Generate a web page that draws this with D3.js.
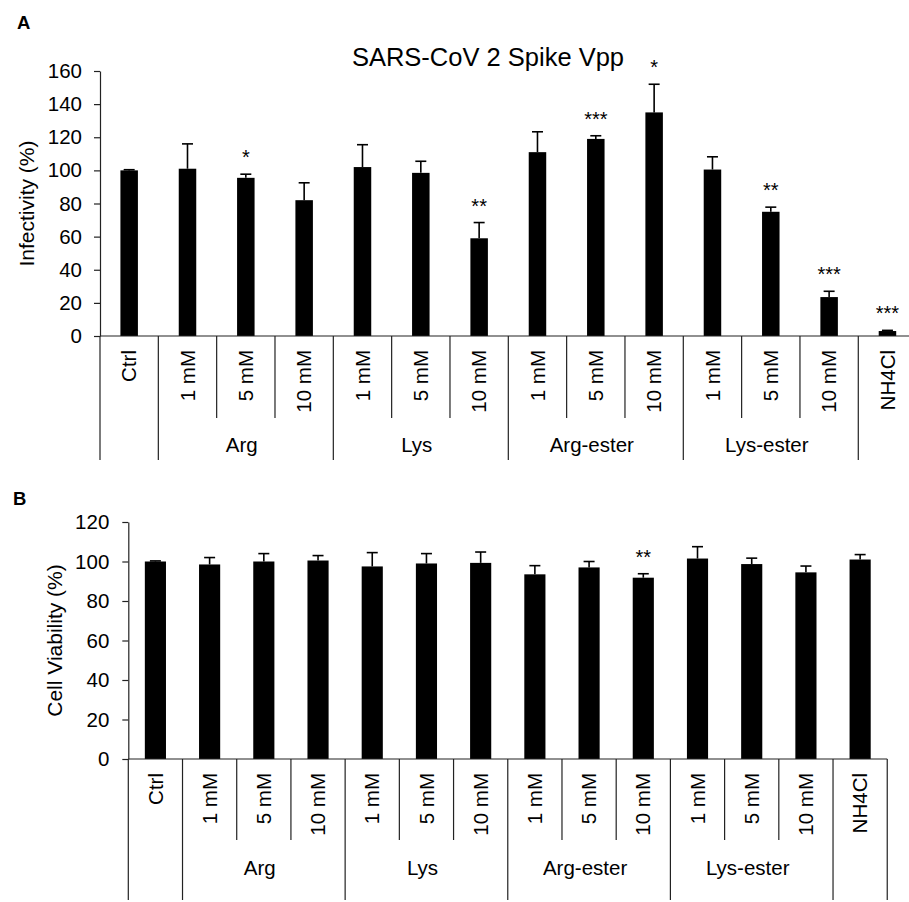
<!DOCTYPE html>
<html>
<head>
<meta charset="utf-8">
<script src="https://cdn.jsdelivr.net/npm/d3@7"></script>
<style>
    body { margin: 0; background: #fff; }
    svg text { font-family: "Liberation Sans", Arial, sans-serif; fill: #000; }
</style>
</head>
<body>
<div id="chart"></div>
<script>
// categories (first level) and treatment (second level)
const conditions = ["Ctrl", "1 mM", "5 mM", "10 mM", "1 mM", "5 mM", "10 mM",
    "1 mM", "5 mM", "10 mM", "1 mM", "5 mM", "10 mM", "NH4Cl"];
const treatments = ["", "Arg", "Arg", "Arg", "Lys", "Lys", "Lys",
    "Arg-ester", "Arg-ester", "Arg-ester", "Lys-ester", "Lys-ester", "Lys-ester", "NH4Cl"];

// panel A: infectivity
const infectivity = [100, 101, 95.5, 82, 102, 98.5, 59, 111, 119, 135, 100.5, 75, 23.5, 3];
const infectivityErr = [0.4, 15, 2.2, 10.5, 13.5, 7, 9.5, 12.3, 1.9, 17, 7.7, 2.8, 3.5, 0.4];
const infectivitySig = ["", "", "*", "", "", "", "**", "", "***", "*", "", "**", "***", "***"];
const infectivityTicks = [0, 20, 40, 60, 80, 100, 120, 140, 160];

// panel B: cell viability
const viability = [100, 98.5, 100, 100.5, 97.5, 99, 99.3, 93.5, 97, 91.8, 101.5, 98.7, 94.5, 101];
const viabilityErr = [0.3, 3.5, 4, 2.5, 7, 5, 5.5, 4.4, 3, 2, 6, 3, 3.2, 2.5];
const viabilitySig = ["", "", "", "", "", "", "", "", "", "**", "", "", "", ""];
const viabilityTicks = [0, 20, 40, 60, 80, 100, 120];

const svg = d3.select("#chart")
    .append("svg")
    .attr("width", 909)
    .attr("height", 902)

draw_panel({
    letter: "A", letterX: 17, letterY: 29,
    title: "SARS-CoV 2 Spike Vpp", titleX: 488, titleY: 66,
    left: 100, step: 58.33, top: 71, bottom: 336,
    max: 160, ticks: infectivityTicks, tickPad: 12,
    barFrac: 0.3,
    yLabel: "Infectivity (%)", yLabelX: 34,
    catY: 350, shortEnd: 418, longEnd: 460, groupY: 452,
    values: infectivity, errs: infectivityErr, sig: infectivitySig
})

draw_panel({
    letter: "B", letterX: 13, letterY: 505,
    left: 128.3, step: 54.21, top: 522, bottom: 759,
    max: 120, ticks: viabilityTicks, tickPad: 13,
    barFrac: 0.39,
    yLabel: "Cell Viability (%)", yLabelX: 62,
    catY: 773, shortEnd: 840, longEnd: 900, groupY: 875,
    values: viability, errs: viabilityErr, sig: viabilitySig
})

function draw_panel(config) {
    const g = svg.append("g")
    const idx = d3.range(conditions.length)

    const scale_x = d3.scaleBand()
        .domain(idx)
        .range([config.left, config.left + config.step * idx.length])
        .padding(0)
    const scale_y = d3.scaleLinear()
        .domain([0, config.max])
        .range([config.bottom, config.top])
    const cx = i => scale_x(i) + scale_x.bandwidth() / 2
    const barW = scale_x.bandwidth() * config.barFrac

    // letter + title
    g.append("text")
        .attr("x", config.letterX)
        .attr("y", config.letterY)
        .attr("font-size", "18.5px")
        .attr("font-weight", "bold")
        .text(config.letter)
    if (config.title) {
        g.append("text")
            .attr("x", config.titleX)
            .attr("y", config.titleY)
            .attr("text-anchor", "middle")
            .attr("font-size", "25.5px")
            .text(config.title)
    }

    // y axis
    const axis_y = d3.axisLeft(scale_y)
        .tickValues(config.ticks)
        .tickSize(6)
        .tickSizeOuter(0)
        .tickPadding(config.tickPad)
    const g_axisY = g.append("g")
        .attr("transform", `translate(${config.left}, 0)`)
        .call(axis_y)
    g_axisY.selectAll("path, line").attr("stroke", "#222").attr("stroke-width", 1.2)
    g_axisY.selectAll("text")
        .attr("font-size", "20.5px")
        .attr("font-family", "Liberation Sans, Arial, sans-serif")
        .attr("fill", "#000")

    g.append("text")
        .attr("transform", `translate(${config.yLabelX}, ${(config.top + config.bottom) / 2}) rotate(-90)`)
        .attr("text-anchor", "middle")
        .attr("font-size", "21px")
        .text(config.yLabel)

    // bars
    g.append("g").selectAll("rect")
        .data(idx)
        .join("rect")
        .attr("x", i => cx(i) - barW / 2)
        .attr("y", i => scale_y(config.values[i]))
        .attr("width", barW)
        .attr("height", i => scale_y(0) - scale_y(config.values[i]))
        .attr("fill", "#000")

    // error bars (upper only)
    const g_err = g.append("g").attr("stroke", "#000").attr("stroke-width", 1.6)
    g_err.selectAll("line.v")
        .data(idx)
        .join("line")
        .attr("class", "v")
        .attr("x1", cx).attr("x2", cx)
        .attr("y1", i => scale_y(config.values[i]))
        .attr("y2", i => scale_y(config.values[i] + config.errs[i]))
    g_err.selectAll("line.cap")
        .data(idx)
        .join("line")
        .attr("class", "cap")
        .attr("x1", i => cx(i) - 5.5).attr("x2", i => cx(i) + 5.5)
        .attr("y1", i => scale_y(config.values[i] + config.errs[i]))
        .attr("y2", i => scale_y(config.values[i] + config.errs[i]))

    // significance stars
    g.append("g").selectAll("text")
        .data(idx.filter(i => config.sig[i]))
        .join("text")
        .attr("x", cx)
        .attr("y", i => scale_y(config.values[i] + config.errs[i]) - 10)
        .attr("text-anchor", "middle")
        .attr("font-size", "20px")
        .text(i => config.sig[i])

    // multi-level category axis
    const g_axisX = g.append("g").attr("stroke", "#222").attr("stroke-width", 1.2)
    g_axisX.append("line")
        .attr("x1", config.left).attr("x2", scale_x.range()[1])
        .attr("y1", config.bottom).attr("y2", config.bottom)
    const bounds = d3.range(conditions.length + 1)
    const isGroupEdge = b => b == 0 || b == conditions.length || treatments[b] != treatments[b - 1]
    g_axisX.selectAll("line.sep")
        .data(bounds)
        .join("line")
        .attr("class", "sep")
        .attr("x1", b => config.left + b * scale_x.step())
        .attr("x2", b => config.left + b * scale_x.step())
        .attr("y1", config.bottom)
        .attr("y2", b => isGroupEdge(b) ? config.longEnd : config.shortEnd)

    g.append("g").selectAll("text")
        .data(idx)
        .join("text")
        .attr("transform", i => `translate(${cx(i)}, ${config.catY}) rotate(-90)`)
        .attr("text-anchor", "end")
        .attr("dy", "0.35em")
        .attr("font-size", "20.5px")
        .text(i => conditions[i])

    // second level labels (only for groups that span several bars)
    const groups = d3.groups(idx, i => treatments[i]).filter(d => d[1].length > 1)
    g.append("g").selectAll("text")
        .data(groups)
        .join("text")
        .attr("x", d => (cx(d[1][0]) + cx(d[1][d[1].length - 1])) / 2 - 4)
        .attr("y", config.groupY)
        .attr("text-anchor", "middle")
        .attr("font-size", "20.5px")
        .text(d => d[0])
}
</script>
</body>
</html>
